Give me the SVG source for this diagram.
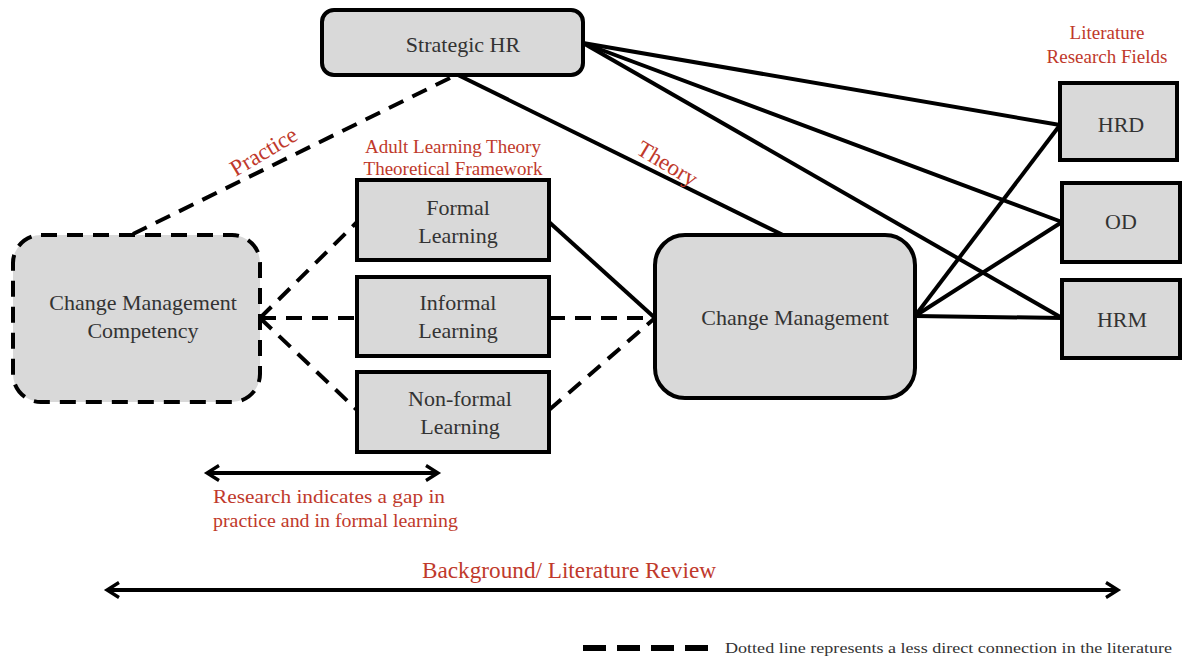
<svg xmlns="http://www.w3.org/2000/svg" width="1189" height="659" viewBox="0 0 1189 659">
<defs>
<style>
.box{fill:#d9d9d9;stroke:#000;stroke-width:4}
.t{font-family:"Liberation Serif","Times New Roman",serif;font-size:22px;fill:#333;text-anchor:middle}
.r{font-family:"Liberation Serif","Times New Roman",serif;font-size:19px;fill:#c0392b;text-anchor:middle}
.s{stroke:#000;stroke-width:4;fill:none}
.d{stroke:#000;stroke-width:4;fill:none;stroke-dasharray:16 10}
</style>
<marker id="ah" viewBox="0 0 12 12" refX="9" refY="6" markerWidth="4.5" markerHeight="4.5" orient="auto-start-reverse" markerUnits="strokeWidth">
<path d="M1,1 L9,6 L1,11" fill="none" stroke="#000" stroke-width="2.2"/>
</marker>
</defs>
<rect width="1189" height="659" fill="#fff"/>
<g id="connectors">
<line class="s" x1="583" y1="43" x2="1060" y2="125"/>
<line class="s" x1="583" y1="43" x2="1062" y2="222"/>
<line class="s" x1="583" y1="43" x2="1062" y2="318"/>
<line class="s" x1="458" y1="75" x2="783" y2="235"/>
<line class="d" x1="450" y1="78" x2="133" y2="234"/>
<line class="s" x1="549" y1="222" x2="655" y2="318"/>
<line class="s" x1="915" y1="316" x2="1060" y2="125"/>
<line class="s" x1="915" y1="316" x2="1062" y2="222"/>
<line class="s" x1="915" y1="316" x2="1062" y2="318"/>
<line class="d" x1="260" y1="318" x2="357" y2="222"/>
<line class="d" x1="260" y1="318" x2="357" y2="318"/>
<line class="d" x1="260" y1="318" x2="357" y2="410"/>
<line class="d" x1="549" y1="318" x2="655" y2="318"/>
<line class="d" x1="549" y1="410" x2="655" y2="318"/>
<line class="s" x1="207" y1="473" x2="438" y2="473" marker-start="url(#ah)" marker-end="url(#ah)"/>
<line class="s" x1="107" y1="590" x2="1118" y2="590" marker-start="url(#ah)" marker-end="url(#ah)"/>
<line x1="583" y1="648" x2="708" y2="648" style="stroke:#000;stroke-width:6;stroke-dasharray:23 11"/>
</g>
<g id="strategic-hr">
<rect class="box" x="322" y="10" width="261" height="65" rx="12"/>
<text class="t" x="463" y="52">Strategic HR</text>
</g>
<g id="cm-competency">
<rect class="box" x="13" y="235" width="247" height="167" rx="28" style="stroke-dasharray:16 10"/>
<text class="t" x="143" y="310">Change Management</text>
<text class="t" x="143" y="338">Competency</text>
</g>
<g id="formal">
<rect class="box" x="357" y="180" width="192" height="80"/>
<text class="t" x="458" y="215">Formal</text>
<text class="t" x="458" y="243">Learning</text>
</g>
<g id="informal">
<rect class="box" x="357" y="277" width="192" height="79"/>
<text class="t" x="458" y="310">Informal</text>
<text class="t" x="458" y="338">Learning</text>
</g>
<g id="nonformal">
<rect class="box" x="357" y="372" width="192" height="80"/>
<text class="t" x="460" y="406">Non-formal</text>
<text class="t" x="460" y="434">Learning</text>
</g>
<g id="change-management">
<rect class="box" x="655" y="235" width="260" height="163" rx="30"/>
<text class="t" x="795" y="325">Change Management</text>
</g>
<g id="hrd">
<rect class="box" x="1060" y="83" width="117" height="77"/>
<text class="t" x="1121" y="132">HRD</text>
</g>
<g id="od">
<rect class="box" x="1062" y="183" width="118" height="79"/>
<text class="t" x="1121" y="229">OD</text>
</g>
<g id="hrm">
<rect class="box" x="1062" y="280" width="118" height="78"/>
<text class="t" x="1122" y="327">HRM</text>
</g>
<g id="labels">
<text class="r" x="1107" y="39">Literature</text>
<text class="r" x="1107" y="63">Research Fields</text>
<text class="r" x="453" y="153">Adult Learning Theory</text>
<text class="r" x="453" y="175">Theoretical Framework</text>
<text class="r" x="264" y="159" transform="rotate(-31 264 152)" style="font-size:23px">Practice</text>
<text class="r" x="667" y="171" transform="rotate(31 667 164)" style="font-size:23px">Theory</text>
<text class="r" x="213" y="503" style="text-anchor:start" textLength="232" lengthAdjust="spacingAndGlyphs">Research indicates a gap in</text>
<text class="r" x="213" y="527" style="text-anchor:start" textLength="245" lengthAdjust="spacingAndGlyphs">practice and in formal learning</text>
<text class="r" x="422" y="578" style="text-anchor:start;font-size:23px" textLength="294" lengthAdjust="spacingAndGlyphs">Background/ Literature Review</text>
<text x="725" y="653" font-family="Liberation Serif,Times New Roman,serif" font-size="15" fill="#333" textLength="447" lengthAdjust="spacingAndGlyphs">Dotted line represents a less direct connection in the literature</text>
</g>
</svg>
